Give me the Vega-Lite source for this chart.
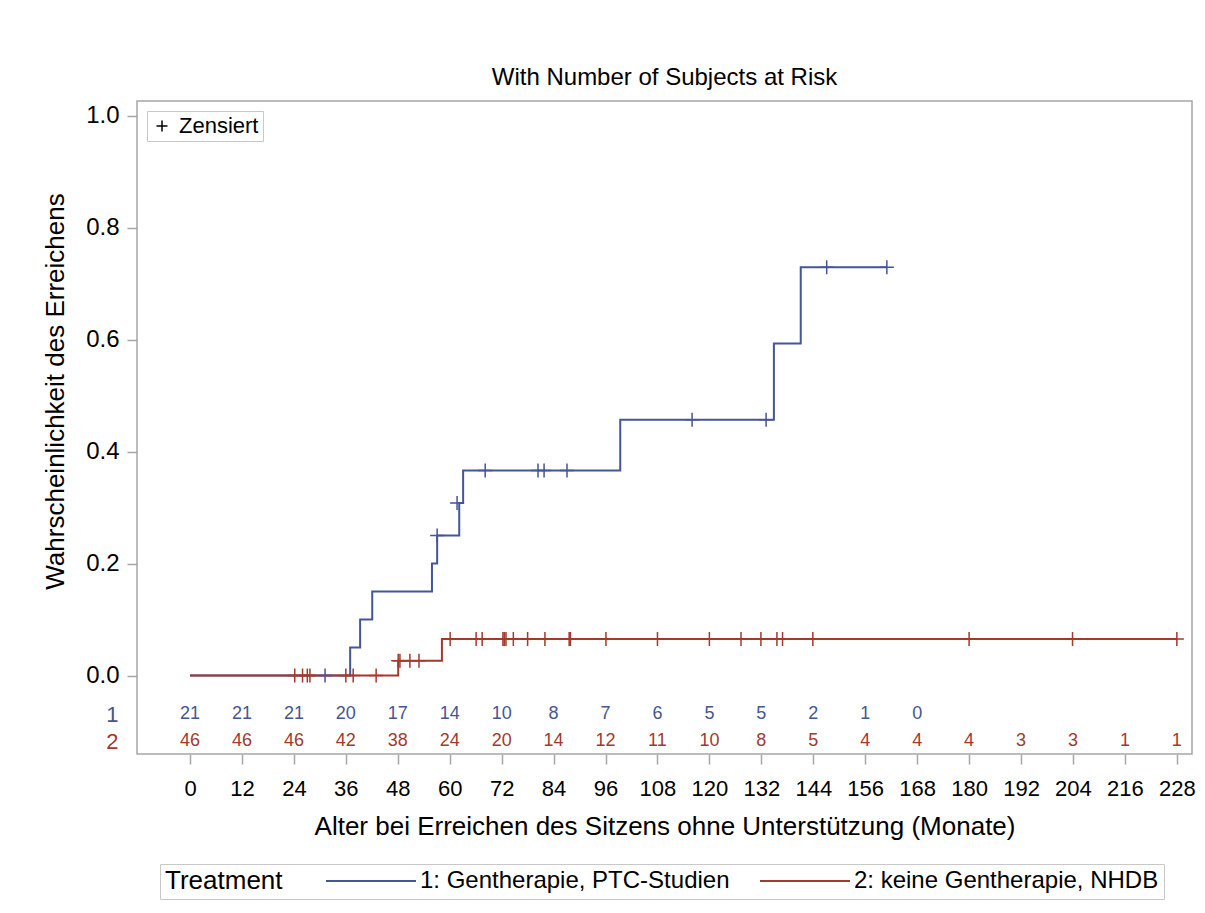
{
  "$schema": "https://vega.github.io/schema/vega-lite/v6.json",
  "width": 1055,
  "height": 653,
  "autosize": {"type": "none"},
  "padding": {"left": 137, "top": 101, "right": 13, "bottom": 159},
  "background": "white",
  "title": {"text": "With Number of Subjects at Risk", "fontSize": 24, "fontWeight": "normal", "font": "Liberation Sans", "color": "black", "offset": -13, "baseline": "bottom", "anchor": "middle"},
  "config": {
    "font": "Liberation Sans",
    "view": {"stroke": "#a6a6a6", "strokeWidth": 1.5},
    "axis": {"labelFont": "Liberation Sans", "titleFont": "Liberation Sans", "labelColor": "black", "titleColor": "black", "titleFontWeight": "normal", "grid": false, "domain": false, "tickColor": "#a6a6a6", "tickWidth": 1.5}
  },
  "datasets": {
    "curve": [
      {"t": 0, "s": 0, "grp": "1: Gentherapie, PTC-Studien"},
      {"t": 37.0, "s": 0.05, "grp": "1: Gentherapie, PTC-Studien"},
      {"t": 39.3, "s": 0.10, "grp": "1: Gentherapie, PTC-Studien"},
      {"t": 42.1, "s": 0.15, "grp": "1: Gentherapie, PTC-Studien"},
      {"t": 55.9, "s": 0.20, "grp": "1: Gentherapie, PTC-Studien"},
      {"t": 57.1, "s": 0.25, "grp": "1: Gentherapie, PTC-Studien"},
      {"t": 62.2, "s": 0.308, "grp": "1: Gentherapie, PTC-Studien"},
      {"t": 63.1, "s": 0.366, "grp": "1: Gentherapie, PTC-Studien"},
      {"t": 99.4, "s": 0.457, "grp": "1: Gentherapie, PTC-Studien"},
      {"t": 134.9, "s": 0.593, "grp": "1: Gentherapie, PTC-Studien"},
      {"t": 141.1, "s": 0.729, "grp": "1: Gentherapie, PTC-Studien"},
      {"t": 161.0, "s": 0.729, "grp": "1: Gentherapie, PTC-Studien"},
      {"t": 0, "s": 0, "grp": "2: keine Gentherapie, NHDB"},
      {"t": 48.1, "s": 0.0263, "grp": "2: keine Gentherapie, NHDB"},
      {"t": 58.2, "s": 0.0653, "grp": "2: keine Gentherapie, NHDB"},
      {"t": 228.0, "s": 0.0653, "grp": "2: keine Gentherapie, NHDB"}
    ],
    "censor": [
      {"t": 31.2, "s": 0, "grp": "1"},
      {"t": 57.1, "s": 0.25, "grp": "1"},
      {"t": 61.7, "s": 0.308, "grp": "1"},
      {"t": 68.2, "s": 0.366, "grp": "1"},
      {"t": 80.4, "s": 0.366, "grp": "1"},
      {"t": 81.8, "s": 0.366, "grp": "1"},
      {"t": 87.1, "s": 0.366, "grp": "1"},
      {"t": 116.0, "s": 0.457, "grp": "1"},
      {"t": 133.1, "s": 0.457, "grp": "1"},
      {"t": 147.1, "s": 0.729, "grp": "1"},
      {"t": 161.0, "s": 0.729, "grp": "1"},
      {"t": 24.2, "s": 0, "grp": "2"},
      {"t": 26.0, "s": 0, "grp": "2"},
      {"t": 27.1, "s": 0, "grp": "2"},
      {"t": 27.7, "s": 0, "grp": "2"},
      {"t": 36.0, "s": 0, "grp": "2"},
      {"t": 37.7, "s": 0, "grp": "2"},
      {"t": 43.0, "s": 0, "grp": "2"},
      {"t": 48.1, "s": 0.0263, "grp": "2"},
      {"t": 48.5, "s": 0.0263, "grp": "2"},
      {"t": 50.8, "s": 0.0263, "grp": "2"},
      {"t": 52.9, "s": 0.0263, "grp": "2"},
      {"t": 60.1, "s": 0.0653, "grp": "2"},
      {"t": 66.1, "s": 0.0653, "grp": "2"},
      {"t": 67.5, "s": 0.0653, "grp": "2"},
      {"t": 72.3, "s": 0.0653, "grp": "2"},
      {"t": 72.6, "s": 0.0653, "grp": "2"},
      {"t": 73.0, "s": 0.0653, "grp": "2"},
      {"t": 74.7, "s": 0.0653, "grp": "2"},
      {"t": 78.0, "s": 0.0653, "grp": "2"},
      {"t": 82.0, "s": 0.0653, "grp": "2"},
      {"t": 87.6, "s": 0.0653, "grp": "2"},
      {"t": 87.9, "s": 0.0653, "grp": "2"},
      {"t": 96.1, "s": 0.0653, "grp": "2"},
      {"t": 108.0, "s": 0.0653, "grp": "2"},
      {"t": 120.0, "s": 0.0653, "grp": "2"},
      {"t": 127.3, "s": 0.0653, "grp": "2"},
      {"t": 131.9, "s": 0.0653, "grp": "2"},
      {"t": 135.6, "s": 0.0653, "grp": "2"},
      {"t": 136.9, "s": 0.0653, "grp": "2"},
      {"t": 143.9, "s": 0.0653, "grp": "2"},
      {"t": 180.0, "s": 0.0653, "grp": "2"},
      {"t": 203.9, "s": 0.0653, "grp": "2"},
      {"t": 228.0, "s": 0.0653, "grp": "2"}
    ],
    "risk": [
      {"t": 0, "n": 21, "row": "1"}, {"t": 12, "n": 21, "row": "1"}, {"t": 24, "n": 21, "row": "1"},
      {"t": 36, "n": 20, "row": "1"}, {"t": 48, "n": 17, "row": "1"}, {"t": 60, "n": 14, "row": "1"},
      {"t": 72, "n": 10, "row": "1"}, {"t": 84, "n": 8, "row": "1"}, {"t": 96, "n": 7, "row": "1"},
      {"t": 108, "n": 6, "row": "1"}, {"t": 120, "n": 5, "row": "1"}, {"t": 132, "n": 5, "row": "1"},
      {"t": 144, "n": 2, "row": "1"}, {"t": 156, "n": 1, "row": "1"}, {"t": 168, "n": 0, "row": "1"},
      {"t": 0, "n": 46, "row": "2"}, {"t": 12, "n": 46, "row": "2"}, {"t": 24, "n": 46, "row": "2"},
      {"t": 36, "n": 42, "row": "2"}, {"t": 48, "n": 38, "row": "2"}, {"t": 60, "n": 24, "row": "2"},
      {"t": 72, "n": 20, "row": "2"}, {"t": 84, "n": 14, "row": "2"}, {"t": 96, "n": 12, "row": "2"},
      {"t": 108, "n": 11, "row": "2"}, {"t": 120, "n": 10, "row": "2"}, {"t": 132, "n": 8, "row": "2"},
      {"t": 144, "n": 5, "row": "2"}, {"t": 156, "n": 4, "row": "2"}, {"t": 168, "n": 4, "row": "2"},
      {"t": 180, "n": 4, "row": "2"}, {"t": 192, "n": 3, "row": "2"}, {"t": 204, "n": 3, "row": "2"},
      {"t": 216, "n": 1, "row": "2"}, {"t": 228, "n": 1, "row": "2"}
    ]
  },
  "resolve": {"scale": {"y": "independent"}, "axis": {"y": "independent"}},
  "layer": [
    {
      "layer": [
        {
          "data": {"name": "curve"},
          "mark": {"type": "line", "interpolate": "step-after", "strokeWidth": 2},
          "encoding": {
            "x": {"field": "t", "type": "quantitative", "scale": {"domain": [-12.25, 231.5], "nice": false, "zero": false},
                  "axis": {"values": [0,12,24,36,48,60,72,84,96,108,120,132,144,156,168,180,192,204,216,228], "title": "Alter bei Erreichen des Sitzens ohne Unterstützung (Monate)", "labelFontSize": 22, "titleFontSize": 26, "tickSize": 10, "labelPadding": 14, "titlePadding": 14, "labelFlush": false, "labelOverlap": false}},
            "y": {"field": "s", "type": "quantitative", "scale": {"domain": [-0.140, 1.026], "nice": false, "zero": false},
                  "axis": {"values": [0, 0.2, 0.4, 0.6, 0.8, 1.0], "format": ".1f", "title": "Wahrscheinlichkeit des Erreichens", "labelFontSize": 24, "titleFontSize": 26, "tickSize": 10, "labelPadding": 8, "titleX": -82, "titleY": 290, "titleBaseline": "middle", "titleAlign": "center", "titleAngle": 270, "orient": "left", "labelFlush": false}},
            "color": {"field": "grp", "type": "nominal",
                      "scale": {"domain": ["1: Gentherapie, PTC-Studien", "2: keine Gentherapie, NHDB"], "range": ["#445694", "#A23A2E"]},
                      "legend": {"title": "Treatment", "orient": "none", "legendX": 23, "legendY": 763, "direction": "horizontal", "titleOrient": "left", "titleFontSize": 26, "titleFontWeight": "normal", "titleColor": "black", "titlePadding": 40, "labelFontSize": 24, "labelColor": "black", "labelLimit": 500, "labelOffset": 73, "symbolType": "M-1,0H9", "symbolSize": 324, "symbolStrokeWidth": 2, "columnPadding": 26, "strokeColor": "#c8c8c8", "padding": 5, "fillColor": "white"}}
          }
        },
        {
          "data": {"name": "censor"},
          "mark": {"type": "point", "filled": false, "strokeWidth": 1.5, "size": 196, "opacity": 1},
          "encoding": {
            "x": {"field": "t", "type": "quantitative"},
            "y": {"field": "s", "type": "quantitative"},
            "color": {"condition": {"test": "datum.grp == '1'", "value": "#445694"}, "value": "#A23A2E"},
            "shape": {"datum": "Zensiert", "type": "nominal", "scale": {"range": ["M-1,0L1,0M0,-1L0,1"]},
                      "legend": {"title": null, "orient": "none", "legendX": 10, "legendY": 10, "labelFontSize": 22, "labelColor": "black", "symbolStrokeColor": "black", "symbolFillColor": "transparent", "symbolSize": 120, "symbolStrokeWidth": 1.5, "labelOffset": 6, "strokeColor": "#c8c8c8", "padding": 4, "fillColor": "white"}}
          }
        }
      ]
    },
    {
      "data": {"name": "risk"},
      "mark": {"type": "text", "fontSize": 18, "baseline": "middle", "align": "center"},
      "encoding": {
        "x": {"field": "t", "type": "quantitative"},
        "y": {"field": "row", "type": "ordinal", "scale": {"type": "point", "domain": ["1", "2"], "range": [613, 640], "padding": 0},
              "axis": {"orient": "left", "title": null, "ticks": false, "tickSize": 0, "labelPadding": 19, "labelFontSize": 22, "labelColor": {"condition": {"test": "datum.value == '1'", "value": "#445694"}, "value": "#A23A2E"}}},
        "text": {"field": "n", "type": "quantitative"},
        "color": {"condition": {"test": "datum.row == '1'", "value": "#445694"}, "value": "#A23A2E"}
      }
    }
  ]
}
